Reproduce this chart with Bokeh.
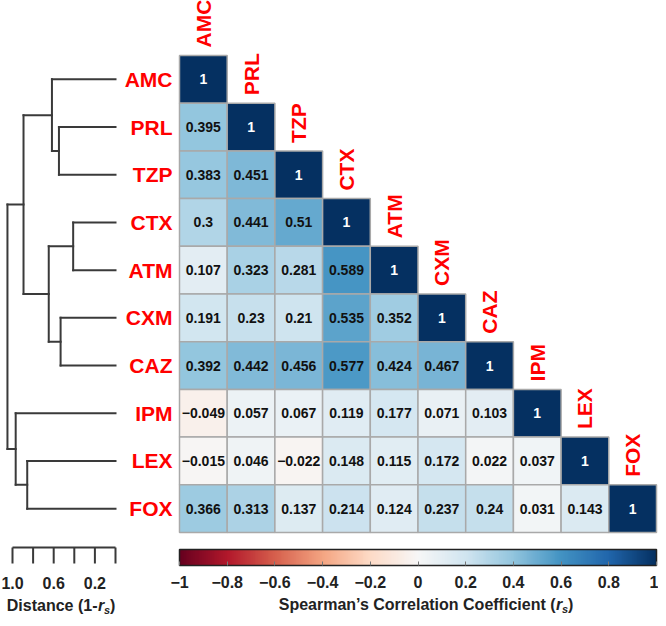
import numpy as np
from bokeh.plotting import figure
from bokeh.models import ColumnDataSource, Range1d, LinearColorMapper, ColorBar, FixedTicker
from bokeh.core.properties import value
from bokeh.embed import file_html
from bokeh.resources import INLINE

# ---------------- data ----------------
drugs = ["AMC", "PRL", "TZP", "CTX", "ATM", "CXM", "CAZ", "IPM", "LEX", "FOX"]
rs_lower = [
    [1],
    [0.395, 1],
    [0.383, 0.451, 1],
    [0.3, 0.441, 0.51, 1],
    [0.107, 0.323, 0.281, 0.589, 1],
    [0.191, 0.23, 0.21, 0.535, 0.352, 1],
    [0.392, 0.442, 0.456, 0.577, 0.424, 0.467, 1],
    [-0.049, 0.057, 0.067, 0.119, 0.177, 0.071, 0.103, 1],
    [-0.015, 0.046, -0.022, 0.148, 0.115, 0.172, 0.022, 0.037, 1],
    [0.366, 0.313, 0.137, 0.214, 0.124, 0.237, 0.24, 0.031, 0.143, 1],
]
colorbar_ticks = [-1, -0.8, -0.6, -0.4, -0.2, 0, 0.2, 0.4, 0.6, 0.8, 1]
colorbar_tick_labels = ["\u22121", "\u22120.8", "\u22120.6", "\u22120.4", "\u22120.2", "0",
                        "0.2", "0.4", "0.6", "0.8", "1"]
distance_ticks = [1.0, 0.8, 0.6, 0.4, 0.2, 0.0]
distance_tick_labels = ["1.0", "", "0.6", "", "0.2", ""]
rdbu = ["#67001f", "#b2182b", "#d6604d", "#f4a582", "#fddbc7", "#f7f7f7",
        "#d1e5f0", "#92c5de", "#4393c3", "#2166ac", "#053061"]

# ---------------- layout constants (figure pixels) ----------------
W, H = 658, 618
CELL = 47.7
HX0, HY0 = 179, 55          # heatmap top-left
DX0, DSCALE = 115, 103      # dendrogram: distance 0 at DX0, px per unit
FONT = value("Liberation Sans")
RED = "#ff0000"
INK = "#222222"

# palette
def hex2rgb(h):
    return np.array([int(h[i:i + 2], 16) for i in (1, 3, 5)], float)
stops = np.array([hex2rgb(c) for c in rdbu])
pos = np.linspace(0, 1, len(rdbu))
t = np.linspace(0, 1, 256)
pal = ["#%02x%02x%02x" % tuple(int(round(np.interp(v, pos, stops[:, k]))) for k in range(3)) for v in t]
mapper = LinearColorMapper(palette=pal, low=-1, high=1)

p = figure(width=W, height=H, toolbar_location=None, output_backend="svg",
           x_range=Range1d(-HX0 / CELL, (W - HX0) / CELL),
           y_range=Range1d((H - HY0) / CELL, -HY0 / CELL),
           x_axis_location=None, y_axis_location=None,
           min_border=0, min_border_left=0, min_border_right=0,
           min_border_top=0, min_border_bottom=0, outline_line_color=None)
p.extra_x_ranges = {"dist": Range1d(DX0 / DSCALE, (DX0 - W) / DSCALE),
                    "pxx": Range1d(0, W)}
p.extra_y_ranges = {"px": Range1d(H, 0)}
for g in p.grid:
    g.visible = False

# ---------------- heatmap ----------------
n = len(drugs)
xc, yc, rv, lab, tc = [], [], [], [], []
for i, row in enumerate(rs_lower):
    for j, v in enumerate(row):
        xc.append(j + 0.5)
        yc.append(i + 0.5)
        rv.append(v)
        lab.append(f"{v:g}".replace("-", "\u2212"))
        tc.append("white" if v > 0.75 else "#111111")
src = ColumnDataSource(dict(x=xc, y=yc, r=rv, label=lab, tc=tc))
p.rect(x="x", y="y", width=1, height=1, source=src,
       fill_color={"field": "r", "transform": mapper},
       line_color="#a9a9a9", line_width=1.5)
p.text(x="x", y="y", text="label", source=src, text_color="tc",
       text_align="center", text_baseline="middle", text_font=FONT,
       text_font_style="bold", text_font_size="14px")

# row labels
p.text(x=[172] * n, y=[i + 0.5 for i in range(n)], text=drugs, x_range_name="pxx",
       text_align="right", text_baseline="middle", text_font=FONT,
       text_font_style="bold", text_font_size="21px", text_color=RED)
# column labels
p.text(x=[i + 0.5 for i in range(n)], y=[i for i in range(n)], text=drugs,
       angle=np.pi / 2, y_offset=-8, text_align="left", text_baseline="middle",
       text_font=FONT, text_font_style="bold", text_font_size="21px", text_color=RED)

# ---------------- dendrogram (complete linkage on 1 - r) ----------------
R = np.eye(n)
for i, row in enumerate(rs_lower):
    for j, v in enumerate(row):
        R[i, j] = R[j, i] = v
D = 1 - R
clusters = [dict(m=[i], y=i + 0.5, h=0.0) for i in range(n)]
seg = dict(x0=[], y0=[], x1=[], y1=[])
while len(clusters) > 1:
    best = None
    for a in range(len(clusters)):
        for b in range(a + 1, len(clusters)):
            d = max(D[i, j] for i in clusters[a]["m"] for j in clusters[b]["m"])
            if best is None or d < best[0]:
                best = (d, a, b)
    d, a, b = best
    A, B = clusters[a], clusters[b]
    for C in (A, B):
        seg["x0"].append(C["h"]); seg["y0"].append(C["y"])
        seg["x1"].append(d); seg["y1"].append(C["y"])
    seg["x0"].append(d); seg["y0"].append(A["y"])
    seg["x1"].append(d); seg["y1"].append(B["y"])
    new = dict(m=A["m"] + B["m"], y=(A["y"] + B["y"]) / 2, h=d)
    clusters = [c for k, c in enumerate(clusters) if k not in (a, b)] + [new]
p.segment(x0="x0", y0="y0", x1="x1", y1="y1", source=ColumnDataSource(seg),
          x_range_name="dist", line_color="#3a3a3a", line_width=2, line_cap="square")

# distance ruler
RT, RB = 547, 563
p.segment(x0=[min(distance_ticks)], x1=[max(distance_ticks)], y0=[RT], y1=[RT],
          x_range_name="dist", y_range_name="px", line_color="#3a3a3a", line_width=2)
p.segment(x0=distance_ticks, x1=distance_ticks, y0=[RT] * len(distance_ticks),
          y1=[RB] * len(distance_ticks), x_range_name="dist", y_range_name="px",
          line_color="#3a3a3a", line_width=2)
p.text(x=distance_ticks, y=[582] * len(distance_ticks), text=distance_tick_labels,
       x_range_name="dist", y_range_name="px", text_align="center", text_baseline="middle",
       text_font=FONT, text_font_style="bold", text_font_size="16px", text_color=INK)

# axis titles with subscript
def sub_title(xr, yv, main):
    p.text(x=[xr], y=[yv], text=[main], x_range_name="pxx", y_range_name="px",
           text_align="right", text_baseline="middle", text_font=FONT,
           text_font_style="bold", text_font_size="16px", text_color=INK)
    p.text(x=[xr + 0.5], y=[yv], text=["r"], x_range_name="pxx", y_range_name="px",
           text_align="left", text_baseline="middle", text_font=FONT,
           text_font_style="bold italic", text_font_size="16px", text_color=INK)
    p.text(x=[xr + 6.5], y=[yv + 4], text=["s"], x_range_name="pxx", y_range_name="px",
           text_align="left", text_baseline="middle", text_font=FONT,
           text_font_style="bold italic", text_font_size="11px", text_color=INK)
    p.text(x=[xr + 12.5], y=[yv], text=[")"], x_range_name="pxx", y_range_name="px",
           text_align="left", text_baseline="middle", text_font=FONT,
           text_font_style="bold", text_font_size="16px", text_color=INK)

sub_title(97, 605, "Distance (1-")
sub_title(555, 604, "Spearman\u2019s Correlation Coefficient (")

# ---------------- colorbar ----------------
cb = ColorBar(color_mapper=mapper, orientation="horizontal", location=(HX0, 28),
              width=int(round(10 * CELL)), height=16, padding=0, title=None,
              ticker=FixedTicker(ticks=colorbar_ticks),
              major_label_overrides={t_: l_ for t_, l_ in zip(colorbar_ticks, colorbar_tick_labels)},
              major_label_text_font="Liberation Sans", major_label_text_font_style="bold",
              major_label_text_font_size="16px", major_label_text_color=INK,
              label_standoff=10, major_tick_in=4, major_tick_out=0,
              major_tick_line_color="#777777", minor_tick_line_color=None,
              bar_line_color=INK, bar_line_width=1.5,
              border_line_color=None, background_fill_alpha=0)
p.add_layout(cb, "center")

open("out.html", "w").write(file_html(p, INLINE))
